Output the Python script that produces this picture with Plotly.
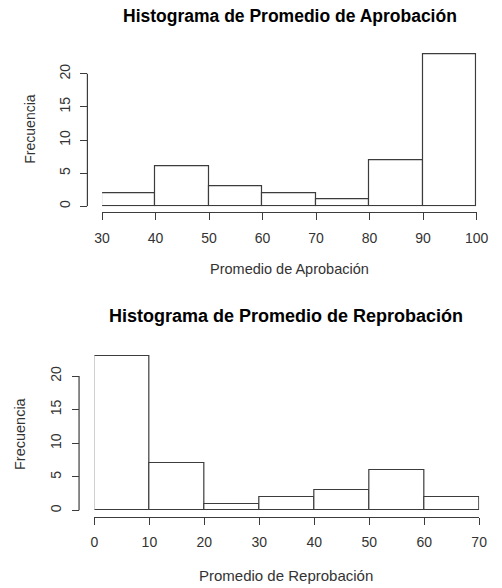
import plotly.graph_objects as go

# ---- data ----
aprob_edges = [30, 40, 50, 60, 70, 80, 90, 100]
aprob_counts = [2, 6, 3, 2, 1, 7, 23]
reprob_edges = [0, 10, 20, 30, 40, 50, 60, 70]
reprob_counts = [23, 7, 1, 2, 3, 6, 2]
y_ticks = [0, 5, 10, 15, 20]
aprob_xticks = [30, 40, 50, 60, 70, 80, 90, 100]
reprob_xticks = [0, 10, 20, 30, 40, 50, 60, 70]

W, H = 502, 588
FONT = "Liberation Sans, Arial, sans-serif"
AX = "#3c3c3c"
TXT = "#333333"


def px_x(p):
    return p / W


def px_y(p):
    return (H - p) / H


def centers(edges):
    return [(a + b) / 2 for a, b in zip(edges[:-1], edges[1:])]


def widths(edges):
    return [b - a for a, b in zip(edges[:-1], edges[1:])]


fig = go.Figure()
fig.add_trace(go.Bar(x=centers(aprob_edges), y=aprob_counts, width=widths(aprob_edges),
                     marker=dict(color="white", line=dict(color=AX, width=1.2)),
                     xaxis="x", yaxis="y", hoverinfo="x+y", showlegend=False))
fig.add_trace(go.Bar(x=centers(reprob_edges), y=reprob_counts, width=widths(reprob_edges),
                     marker=dict(color="white", line=dict(color=AX, width=1.2)),
                     xaxis="x2", yaxis="y2", hoverinfo="x+y", showlegend=False))

tickfont = dict(family=FONT, size=14, color=TXT)

def xax(domain, rng, ticks, pos):
    return dict(domain=domain, range=rng, anchor="free", position=pos,
                tickvals=ticks, ticktext=[str(t) for t in ticks],
                showline=True, linecolor=AX, linewidth=1.2, ticks="outside",
                ticklen=7, tickcolor=AX, tickwidth=1.2, showgrid=False, zeroline=False,
                tickfont=tickfont, ticklabelstandoff=6, fixedrange=True)

def yax(domain, rng, pos):
    return dict(domain=domain, range=rng, anchor="free", position=pos,
                tickvals=y_ticks, ticktext=[str(t) for t in y_ticks], tickangle=-90,
                showline=False, ticks="outside", ticklen=7, tickcolor=AX, tickwidth=1.2,
                showgrid=False, zeroline=False, tickfont=tickfont,
                ticklabelstandoff=5, fixedrange=True)

# panel geometry (pixels in the reference)
t_x0, t_x1 = 98, 488
t_y0 = 207
t_unit = 6.65
t_ytop = t_y0 - 24 * t_unit
b_x0, b_x1 = 90, 490.7
b_y0 = 512.3
b_unit = 6.75
b_ytop = b_y0 - 24 * b_unit

fig.update_layout(
    width=W, height=H, margin=dict(l=0, r=0, t=0, b=0),
    paper_bgcolor="white", plot_bgcolor="white", bargap=0,
    xaxis=xax([px_x(t_x0), px_x(t_x1)], [aprob_edges[0], aprob_edges[-1]], aprob_xticks, px_y(212.7)),
    yaxis=yax([px_y(t_y0), px_y(t_ytop)], [0, 24], px_x(82.7)),
    xaxis2=xax([px_x(b_x0), px_x(b_x1)], [reprob_edges[0], reprob_edges[-1]], reprob_xticks, px_y(518.3)),
    yaxis2=yax([px_y(b_y0), px_y(b_ytop)], [0, 24], px_x(74)),
    shapes=[
        dict(type="line", xref="paper", yref="y", x0=px_x(82.7), x1=px_x(82.7),
             y0=min(y_ticks), y1=max(y_ticks), line=dict(color=AX, width=1.2)),
        dict(type="line", xref="paper", yref="y2", x0=px_x(74), x1=px_x(74),
             y0=min(y_ticks), y1=max(y_ticks), line=dict(color=AX, width=1.2)),
    ],
    annotations=[
        dict(text="<b>Histograma de Promedio de Aprobación</b>", xref="paper", yref="paper",
             x=px_x(294), y=px_y(16), showarrow=False, xanchor="center", yanchor="middle",
             font=dict(family=FONT, size=17.5, color="black")),
        dict(text="<b>Histograma de Promedio de Reprobación</b>", xref="paper", yref="paper",
             x=px_x(290), y=px_y(317), showarrow=False, xanchor="center", yanchor="middle",
             font=dict(family=FONT, size=18, color="black")),
        dict(text="Promedio de Aprobación", xref="paper", yref="paper",
             x=px_x(293), y=px_y(270), showarrow=False, xanchor="center", yanchor="middle",
             font=dict(family=FONT, size=14.5, color=TXT)),
        dict(text="Promedio de Reprobación", xref="paper", yref="paper",
             x=px_x(290), y=px_y(577), showarrow=False, xanchor="center", yanchor="middle",
             font=dict(family=FONT, size=15, color=TXT)),
        dict(text="Frecuencia", xref="paper", yref="paper", textangle=-90,
             x=px_x(22), y=px_y(130), showarrow=False, xanchor="center", yanchor="middle",
             font=dict(family=FONT, size=14, color=TXT)),
        dict(text="Frecuencia", xref="paper", yref="paper", textangle=-90,
             x=px_x(12), y=px_y(435), showarrow=False, xanchor="center", yanchor="middle",
             font=dict(family=FONT, size=14.5, color=TXT)),
    ],
)

fig.write_html("out.html", config={"displayModeBar": False},
               post_script="document.body.style.margin='0';document.body.style.overflow='hidden';")
